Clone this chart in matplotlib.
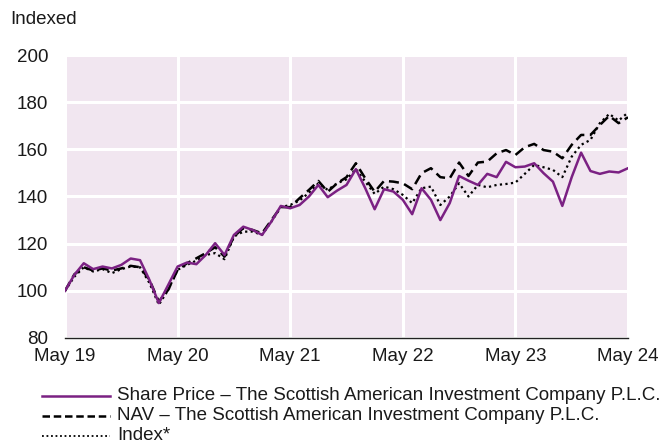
import matplotlib
matplotlib.use("Agg")
import matplotlib.pyplot as plt
from matplotlib.lines import Line2D
import numpy as np

plt.rcParams['font.family'] = ['Liberation Sans', 'DejaVu Sans']

x_labels = ["May 19", "May 20", "May 21", "May 22", "May 23", "May 24"]
y_ticks = [80, 100, 120, 140, 160, 180, 200]

share_price = [100, 106.8, 111.7, 109.2, 110.3, 109.5, 111.0, 113.7, 113.0, 104.6,
               94.8, 102.5, 110.3, 112.0, 111.3, 115.2, 120.2, 115.2, 123.7, 127.2,
               125.8, 123.7, 129.4, 136.0, 135.0, 136.4, 140.0, 144.9, 139.7, 142.5,
               144.9, 151.6, 143.5, 134.6, 143.1, 142.1, 138.6, 132.5, 143.5, 138.6,
               130.0, 137.2, 148.7, 146.7, 144.9, 149.6, 148.2, 154.7, 152.4, 152.7,
               154.1, 149.9, 146.3, 136.0, 148.2, 158.6, 150.8, 149.6, 150.6, 150.2,
               152.0]
nav = [100, 107.0, 110.0, 108.6, 109.5, 108.6, 109.5, 110.6, 110.0, 104.6,
       95.5, 100.4, 108.9, 111.7, 113.8, 116.0, 118.5, 114.5, 123.0, 126.6,
       125.8, 124.4, 130.0, 135.5, 135.5, 139.3, 142.8, 146.6, 142.0, 145.6,
       148.2, 154.1, 147.7, 142.0, 146.6, 146.3, 145.6, 143.1, 149.9, 152.0,
       148.2, 147.7, 154.4, 148.7, 154.4, 154.8, 158.3, 159.7, 157.6, 160.9,
       162.3, 159.7, 159.0, 156.2, 161.9, 166.1, 166.1, 170.3, 174.2, 171.1,
       173.6]
index = [100, 106.0, 110.0, 108.2, 109.2, 107.5, 109.2, 110.3, 110.0, 103.3,
         94.1, 100.4, 108.9, 111.0, 112.8, 115.2, 116.0, 113.4, 123.0, 125.1,
         125.1, 123.7, 129.4, 135.5, 136.4, 138.3, 141.6, 145.6, 142.8, 145.6,
         147.3, 151.6, 146.3, 141.1, 144.2, 143.1, 140.7, 137.2, 143.5, 144.2,
         136.4, 140.0, 145.6, 140.0, 144.9, 143.9, 144.9, 145.3, 145.9, 149.6,
         153.4, 152.4, 151.3, 148.2, 156.9, 161.9, 164.0, 171.1, 175.0, 172.2,
         175.6]

labels = ["Share Price \u2013 The Scottish American Investment Company P.L.C.",
          "NAV \u2013 The Scottish American Investment Company P.L.C.",
          "Index*"]

purple = "#7b2183"
txt = "#1a1a1a"
fs = 13.5
months = np.arange(len(share_price))

fig = plt.figure(figsize=(6.65, 4.45), dpi=100)
ax = fig.add_axes([65/665, 1-338/445, (628-65)/665, (338-55)/445])
ax.set_facecolor("#f1e6f0")

ax.plot(months, index, color="black", lw=1.6, linestyle=(0, (1, 1.5)), zorder=3)
ax.plot(months, nav, color="black", lw=1.8, linestyle=(0, (4, 2.2)), zorder=4)
ax.plot(months, share_price, color=purple, lw=1.8, zorder=5)

ax.set_xlim(0, 60)
ax.set_ylim(80, 200)
ax.set_xticks(np.arange(0, 61, 12))
ax.set_xticklabels(x_labels)
ax.set_yticks(y_ticks)
ax.grid(True, color="white", lw=2.2)
ax.set_axisbelow(True)
for s in ax.spines.values():
    s.set_visible(False)
ax.spines['bottom'].set_visible(True)
ax.spines['bottom'].set_color("#222222")
ax.spines['bottom'].set_linewidth(1.0)
ax.tick_params(axis='both', length=0, labelsize=fs, colors=txt)
ax.tick_params(axis='y', pad=12)
ax.tick_params(axis='x', pad=7)

fig.text(10/665, 1-20/445, "Indexed", fontsize=fs, va="center", ha="left", color=txt)

styles = [dict(color=purple, lw=1.8, linestyle="-"),
          dict(color="black", lw=1.8, linestyle=(0, (3, 1.5))),
          dict(color="black", lw=1.3, linestyle=(0, (1, 1.5)))]
ys = [396, 416, 436]
for lab, st, yy in zip(labels, styles, ys):
    yf = 1 - yy/445
    fig.add_artist(Line2D([42/665, 110/665], [yf, yf], transform=fig.transFigure, **st))
    fig.text(117/665, yf, lab, fontsize=fs, va="center", ha="left", color=txt)

fig.savefig("out.png", dpi=100)
